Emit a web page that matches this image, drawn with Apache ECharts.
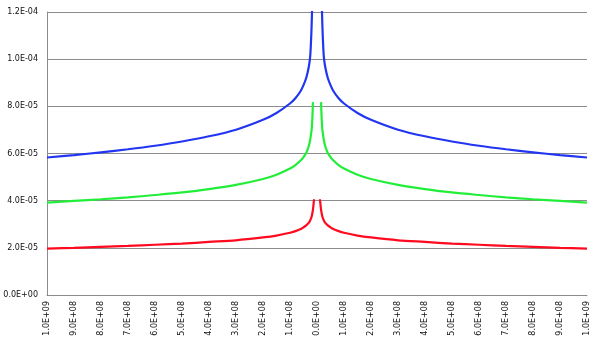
<!DOCTYPE html>
<html>
<head>
<meta charset="utf-8">
<script src="https://cdn.jsdelivr.net/npm/echarts@6/dist/echarts.min.js"></script>
<style>
  html, body { margin: 0; padding: 0; background: #ffffff; }
  #chart { width: 600px; height: 340px; }
</style>
</head>
<body>
<div id="chart"></div>
<script>
// Sample positions along the horizontal axis (0 itself is a gap)
var xValues = [
  -1e9, -9e8, -8e8, -7e8, -6e8, -5e8, -4e8, -3e8, -2e8, -1.5e8, -1e8,
  -8e7, -6e7, -5e7, -4e7, -3e7, -2.5e7, -2.2e7, -2e7, -1.85e7, -1.7e7, -1.5e7, -1.3e7, -1.1e7,
  0,
  1.1e7, 1.3e7, 1.5e7, 1.7e7, 1.85e7, 2e7, 2.2e7, 2.5e7, 3e7, 4e7, 5e7, 6e7, 8e7,
  1e8, 1.5e8, 2e8, 3e8, 4e8, 5e8, 6e8, 7e8, 8e8, 9e8, 1e9
];

var blueValues = [
  5.83e-5, 5.93e-5, 6.05e-5, 6.18e-5, 6.33e-5, 6.51e-5, 6.73e-5, 7.01e-5, 7.43e-5, 7.72e-5, 8.12e-5,
  8.34e-5, 8.66e-5, 8.90e-5, 9.20e-5, 9.70e-5, 1.015e-4, 1.08e-4, 1.14e-4, 1.20e-4, 1.28e-4, 1.40e-4, null, null,
  null,
  null, null, 1.40e-4, 1.28e-4, 1.20e-4, 1.14e-4, 1.08e-4, 1.015e-4, 9.70e-5, 9.20e-5, 8.90e-5, 8.66e-5, 8.34e-5,
  8.12e-5, 7.72e-5, 7.43e-5, 7.01e-5, 6.73e-5, 6.51e-5, 6.33e-5, 6.18e-5, 6.05e-5, 5.93e-5, 5.83e-5
];

var greenValues = [
  3.92e-5, 3.99e-5, 4.06e-5, 4.14e-5, 4.24e-5, 4.35e-5, 4.49e-5, 4.67e-5, 4.92e-5, 5.10e-5, 5.36e-5,
  5.51e-5, 5.71e-5, 5.85e-5, 6.02e-5, 6.33e-5, 6.60e-5, 6.82e-5, 7.00e-5, 7.22e-5, 7.55e-5, 8.18e-5, null, null,
  null,
  null, null, 8.18e-5, 7.55e-5, 7.22e-5, 7.00e-5, 6.82e-5, 6.60e-5, 6.33e-5, 6.02e-5, 5.85e-5, 5.71e-5, 5.51e-5,
  5.36e-5, 5.10e-5, 4.92e-5, 4.67e-5, 4.49e-5, 4.35e-5, 4.24e-5, 4.14e-5, 4.06e-5, 3.99e-5, 3.92e-5
];

var redValues = [
  1.97e-5, 2.00e-5, 2.04e-5, 2.08e-5, 2.13e-5, 2.18e-5, 2.25e-5, 2.32e-5, 2.44e-5, 2.52e-5, 2.64e-5,
  2.71e-5, 2.80e-5, 2.87e-5, 2.95e-5, 3.07e-5, 3.17e-5, 3.25e-5, 3.32e-5, 3.40e-5, 3.48e-5, 3.62e-5, 3.82e-5, 4.06e-5,
  null,
  4.06e-5, 3.82e-5, 3.62e-5, 3.48e-5, 3.40e-5, 3.32e-5, 3.25e-5, 3.17e-5, 3.07e-5, 2.95e-5, 2.87e-5, 2.80e-5, 2.71e-5,
  2.64e-5, 2.52e-5, 2.44e-5, 2.32e-5, 2.25e-5, 2.18e-5, 2.13e-5, 2.08e-5, 2.04e-5, 2.00e-5, 1.97e-5
];

var yTicks = { min: 0, max: 1.2e-4, step: 2e-5 };
var xTicks = { min: -1e9, max: 1e9, step: 1e8 };

function pairs(ys) {
  return xValues.map(function (x, i) {
    return [x, ys[i] === null ? '-' : ys[i]];
  });
}

// Scientific label in the style "1.2E-04"
function sci(v) {
  var s = Number(v).toExponential(1);
  var parts = s.split('e');
  var exp = parseInt(parts[1], 10);
  var sign = exp < 0 ? '-' : '+';
  var mag = Math.abs(exp);
  return parts[0] + 'E' + sign + (mag < 10 ? '0' + mag : '' + mag);
}

var gridColor = '#8c8c8c';
var font = 'DejaVu Sans';

var chart = echarts.init(document.getElementById('chart'), null, { renderer: 'canvas' });

function lineSeries(name, ys, color) {
  return {
    name: name,
    type: 'line',
    data: pairs(ys),
    showSymbol: false,
    smooth: 0.3,
    connectNulls: false,
    clip: true,
    lineStyle: { color: color, width: 2.2 },
    itemStyle: { color: color },
    animation: false
  };
}

chart.setOption({
  animation: false,
  backgroundColor: '#ffffff',
  grid: { left: 47, right: 13, top: 12, bottom: 45, containLabel: false },
  xAxis: {
    type: 'value',
    min: xTicks.min,
    max: xTicks.max,
    interval: xTicks.step,
    axisLine: { show: true, onZero: false, lineStyle: { color: gridColor, width: 1 } },
    axisTick: { show: false },
    splitLine: { show: false },
    axisLabel: {
      rotate: 90,
      margin: 6,
      fontFamily: font,
      fontSize: 8,
      color: '#111111',
      formatter: function (v) { return sci(Math.abs(v)); }
    }
  },
  yAxis: {
    type: 'value',
    min: yTicks.min,
    max: yTicks.max,
    interval: yTicks.step,
    axisLine: { show: true, onZero: false, lineStyle: { color: gridColor, width: 1 } },
    axisTick: { show: false },
    splitLine: { show: true, lineStyle: { color: gridColor, width: 1 } },
    axisLabel: {
      margin: 9,
      fontFamily: font,
      fontSize: 8,
      color: '#111111',
      formatter: function (v) { return sci(v); }
    }
  },
  series: [
    lineSeries('blue', blueValues, '#2236f2'),
    lineSeries('green', greenValues, '#22ee3a'),
    lineSeries('red', redValues, '#ff0a1e')
  ]
});
</script>
</body>
</html>
